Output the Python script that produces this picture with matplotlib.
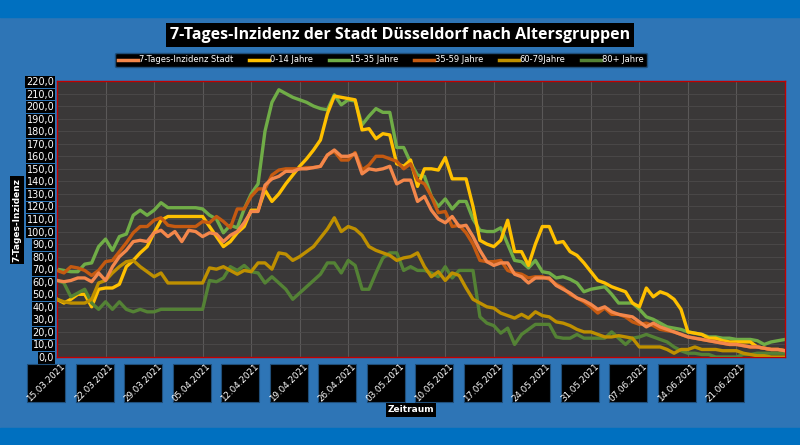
import matplotlib
matplotlib.use("Agg")
import matplotlib.pyplot as plt
import matplotlib.transforms as mtrans
import numpy as np

tick_labels = ["15.03.2021", "22.03.2021", "29.03.2021", "05.04.2021", "12.04.2021",
               "19.04.2021", "26.04.2021", "03.05.2021", "10.05.2021", "17.05.2021",
               "24.05.2021", "31.05.2021", "07.06.2021", "14.06.2021", "21.06.2021"]
series_names = ["7-Tages-Inzidenz Stadt", "0-14 Jahre", "15-35 Jahre", "35-59 Jahre", "60-79Jahre", "80+ Jahre"]

stadt = [61,60,61,63,63,60,67,61,72,80,85,
         92,93,92,99,101,96,100,92,101,100,
         96,99,98,92,97,100,107,116,116,137,
         142,144,148,148,150,150,151,152,161,165,
         160,160,162,146,150,149,150,152,138,141,
         141,124,128,117,110,107,112,104,105,96,
         85,76,73,75,75,66,64,59,63,63,
         63,57,54,51,47,45,42,38,40,36,
         34,33,32,28,24,27,24,22,20,18,
         16,15,14,13,12,11,10,10,9,8,
         8,7,6,6,5]
j0_14 = [46,43,46,50,50,40,54,55,55,58,72,
         77,83,88,99,109,112,112,112,112,112,
         112,104,96,88,92,99,104,117,117,133,
         124,130,138,145,152,158,165,173,194,208,
         207,206,205,181,182,174,178,177,154,152,
         157,136,150,150,149,159,142,142,142,120,
         93,90,88,93,109,84,84,73,90,104,
         104,91,92,84,81,75,68,61,59,56,
         54,52,43,40,55,48,52,50,46,38,
         20,19,18,15,15,13,12,12,12,12,
         8,7,6,6,5]
j15_35 = [70,69,68,68,74,75,88,94,85,96,98,
          113,117,113,117,123,119,119,119,119,119,
          118,113,110,99,105,103,118,130,138,180,
          203,213,210,207,205,203,200,198,197,209,
          201,205,204,185,192,198,195,195,167,167,
          155,145,144,128,120,126,118,124,124,110,
          101,100,100,103,90,77,76,71,77,68,
          67,63,64,62,59,52,54,55,56,50,
          43,43,43,38,32,30,27,24,23,22,
          20,19,18,16,16,15,15,14,14,14,
          13,10,12,13,14]
j35_59 = [69,67,72,71,69,65,69,76,77,84,91,
          99,104,104,109,111,105,104,104,104,104,
          108,107,112,108,103,118,118,128,134,134,
          145,149,150,150,150,151,151,152,161,164,
          157,157,163,149,153,160,160,158,156,150,
          154,141,138,128,115,116,104,105,99,90,
          77,76,76,77,69,67,66,63,64,64,
          62,58,55,50,47,44,40,35,39,34,
          34,32,28,26,27,25,22,21,20,18,
          16,15,14,13,12,11,10,10,9,8,
          8,7,6,6,5]
j60_79 = [46,44,43,43,43,46,59,61,67,72,76,
          77,72,68,64,67,59,59,59,59,59,
          59,71,70,72,69,66,69,68,75,75,
          70,83,82,77,80,84,88,95,102,111,
          100,104,102,97,88,85,83,81,77,79,
          80,83,72,64,68,61,67,65,55,46,
          43,40,39,35,33,31,34,31,36,33,
          32,28,27,25,22,20,20,18,16,16,
          17,16,15,8,8,8,8,6,3,6,
          6,8,6,6,6,5,5,5,3,2,
          1,1,0,0,0]
j80 = [61,59,48,51,54,43,38,44,38,44,38,
       36,38,36,36,38,38,38,38,38,38,
       38,61,60,63,72,69,73,68,67,59,
       64,59,54,46,51,56,61,66,75,75,
       67,77,73,54,54,67,79,83,83,69,
       72,69,69,67,64,72,63,69,69,69,
       32,27,25,19,23,10,18,22,26,26,
       26,16,15,15,18,15,15,15,15,20,
       15,10,15,16,18,16,14,12,8,5,
       3,3,2,2,0,0,0,0,2,2,
       3,3,3,3,3]

colors = ["#f4874b", "#ffc000", "#70ad47", "#c55a11", "#bf9000", "#548235"]
data = [stadt, j0_14, j15_35, j35_59, j60_79, j80]

fig = plt.figure(figsize=(8, 4.45), dpi=100)
fig.patch.set_facecolor("#2e75b6")
fig.add_artist(plt.Rectangle((0, 1 - 17/445), 1, 17/445, transform=fig.transFigure, color="#0070c0", zorder=0))
fig.add_artist(plt.Rectangle((0, 0), 1, 17/445, transform=fig.transFigure, color="#0070c0", zorder=0))

ax = fig.add_axes([57/800, 88/445, 728/800, 276/445])
ax.set_facecolor("#3a3838")
days = np.arange(len(stadt))
zorders = [6, 3, 2, 5, 4, 3]
for name, vals, c, z in zip(series_names, data, colors, zorders):
    ax.plot(days, vals, color=c, lw=2.4, label=name, zorder=z, solid_joinstyle="round")

ax.set_xlim(0, 105)
ax.set_ylim(0, 220)
ax.set_yticks(np.arange(0, 221, 10))
ax.set_yticklabels([f"{v:.1f}".replace(".", ",") for v in range(0, 221, 10)])
week_pos = np.arange(0, 7 * len(tick_labels), 7)
ax.set_xticks(week_pos)
ax.set_xticklabels([])
ax.grid(True, axis="x", color="#5a5858", lw=0.8)
ax.grid(True, axis="y", color="#4c4a4a", lw=0.6)
ax.set_axisbelow(True)
for s in ax.spines.values():
    s.set_color("#c00000")
    s.set_linewidth(1.0)
ax.tick_params(length=0, pad=2)
for t in ax.get_yticklabels():
    t.set_color("white")
    t.set_fontsize(7)
    t.set_bbox(dict(facecolor="black", edgecolor="none", pad=0.6))

# x tick labels: upright black squares with diagonal text
px_per_day = 728 / 105
for p, lab in zip(week_pos, tick_labels):
    cx = 57 + p * px_per_day - 11
    cy = 445 - 383
    fig.add_artist(plt.Rectangle(((cx - 19) / 800, (cy - 19) / 445), 38 / 800, 38 / 445,
                                 transform=fig.transFigure, facecolor="black", edgecolor="#1f4e79", lw=0.8))
    fig.text(cx / 800, cy / 445, lab, rotation=45, ha="center", va="center",
             color="white", fontsize=6.3, rotation_mode="anchor")

fig.text(0.5, 1 - 35/445, "7-Tages-Inzidenz der Stadt Düsseldorf nach Altersgruppen", ha="center", va="center",
         color="white", fontsize=11.5, fontweight="bold", family="Open Sans",
         bbox=dict(facecolor="black", edgecolor="none", pad=3))
leg = fig.legend(loc="center", bbox_to_anchor=(381/800, 1 - 60/445), ncol=6, frameon=True, fontsize=6.0,
                 handlelength=2.4, columnspacing=1.9, handletextpad=0.1, borderpad=0.35)
leg.get_frame().set_facecolor("black")
leg.get_frame().set_edgecolor("#1f4e79")
leg.get_frame().set_alpha(1)
for t in leg.get_texts():
    t.set_color("white")
for l in leg.get_lines():
    l.set_linewidth(2.5)

fig.text(17/800, 1 - 220/445, "7-Tages-Inzidenz", rotation=90, ha="center", va="center", color="white",
         fontsize=6.5, fontweight="bold", bbox=dict(facecolor="black", edgecolor="none", pad=1.5))
fig.text(411/800, 1 - 410/445, "Zeitraum", ha="center", va="center", color="white",
         fontsize=6.5, fontweight="bold", bbox=dict(facecolor="black", edgecolor="none", pad=1.5))

fig.savefig("out.png", dpi=100, facecolor=fig.get_facecolor())
